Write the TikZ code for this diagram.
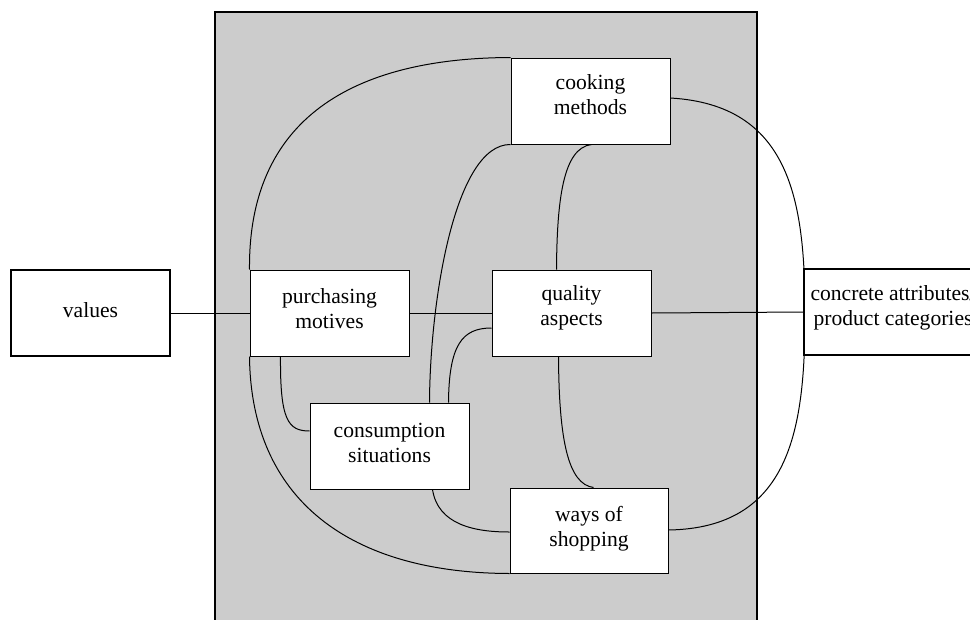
\documentclass[tikz,border=0pt]{standalone}
\usepackage{fontspec}
\setmainfont{Liberation Serif}
\definecolor{panelgray}{HTML}{CCCCCC}
\tikzset{
  box/.style={draw, fill=white, line width=1pt, minimum width=159pt, minimum height=86pt, inner sep=0pt},
  boldbox/.style={box, line width=1.8pt},
  lbl/.style={align=center, font=\fontsize{21.6}{25}\selectfont, inner sep=0pt},
  conn/.style={line width=1pt}
}
\begin{document}
\begin{tikzpicture}[x=1pt,y=1pt]
\useasboundingbox (0,0) rectangle (970,-619);
\fill[white] (0,0) rectangle (970,-619);
\filldraw[fill=panelgray, draw=black, line width=1.2pt] (215,-12) rectangle (757,-630);

% coordinates for box placement
\node[box] (values) at (90.5,-313) {};
\node[box] (purch) at (329.5,-313) {};
\node[box] (quality) at (571.5,-313) {};
\node[box] (cooking) at (590.5,-101) {};
\node[box] (cons) at (389.5,-446) {};
\node[box, minimum width=158pt, minimum height=85pt] (ways) at (589,-530.5) {};
\coordinate (bulge) at (805,-314);

% connectors
\draw[conn] (values.east) -- (purch.west);
\draw[conn] (purch.east) -- (quality.west);
\draw[conn] (quality.east) -- (804,-312) coordinate (cw);
\draw[conn] (purch.north west) .. controls (248,-110) and (365,-58) .. (cooking.north west);
\draw[conn] (cooking.south west) .. controls (455,-144) and (430,-300) .. ([xshift=120pt]cons.north west);
\draw[conn] ([xshift=81pt]cooking.south west) .. controls (563,-148) and (557,-200) .. ([xshift=65pt]quality.north west);
\draw[conn] ([yshift=3pt]cooking.east) .. controls (790,-105) and (805,-200) .. (bulge)
  .. controls (805,-430) and (790,-528) .. ([yshift=0.5pt]ways.east);
\draw[conn] (purch.south west) .. controls (251,-500) and (350,-573) .. (ways.south west);
\draw[conn] ([xshift=31pt]purch.south west) .. controls (280,-420) and (288,-431) .. ([yshift=15pt]cons.west);
\draw[conn] ([xshift=139pt]cons.north west) .. controls (449,-345) and (462,-328) .. ([yshift=-15pt]quality.west);
\draw[conn] ([xshift=67pt]quality.south west) .. controls (559,-440) and (568,-484) .. ([xshift=84pt]ways.north west);
\draw[conn] ([xshift=123pt]cons.south west) .. controls (438,-525) and (475,-532) .. ([yshift=-1.5pt]ways.west);

% boxes redrawn on top
\node[boldbox] (valuesB) at (values) {};
\node[box] (purchB) at (purch) {};
\node[box] (qualityB) at (quality) {};
\node[box] (cookingB) at (cooking) {};
\node[box] (consB) at (cons) {};
\node[box, minimum width=158pt, minimum height=85pt] (waysB) at (ways) {};
\node[boldbox, minimum width=181pt] (concrete) at (894.5,-312) {};

% labels
\node[lbl] (tvalues) at ([yshift=3pt]values.center) {values};
\node[lbl] (tpurch) at ([yshift=4pt]purch.center) {purchasing\\motives};
\node[lbl] (tquality) at ([yshift=5pt]quality.center) {quality\\aspects};
\node[lbl] (tcooking) at ([yshift=6pt]cooking.center) {cooking\\methods};
\node[lbl] (tcons) at ([yshift=3pt]cons.center) {consumption\\situations};
\node[lbl] (tways) at ([yshift=2pt]ways.center) {ways of\\shopping};
\node[lbl] (tconcrete) at (893,-307.5) {concrete attributes/\\product categories};
\end{tikzpicture}
\end{document}
